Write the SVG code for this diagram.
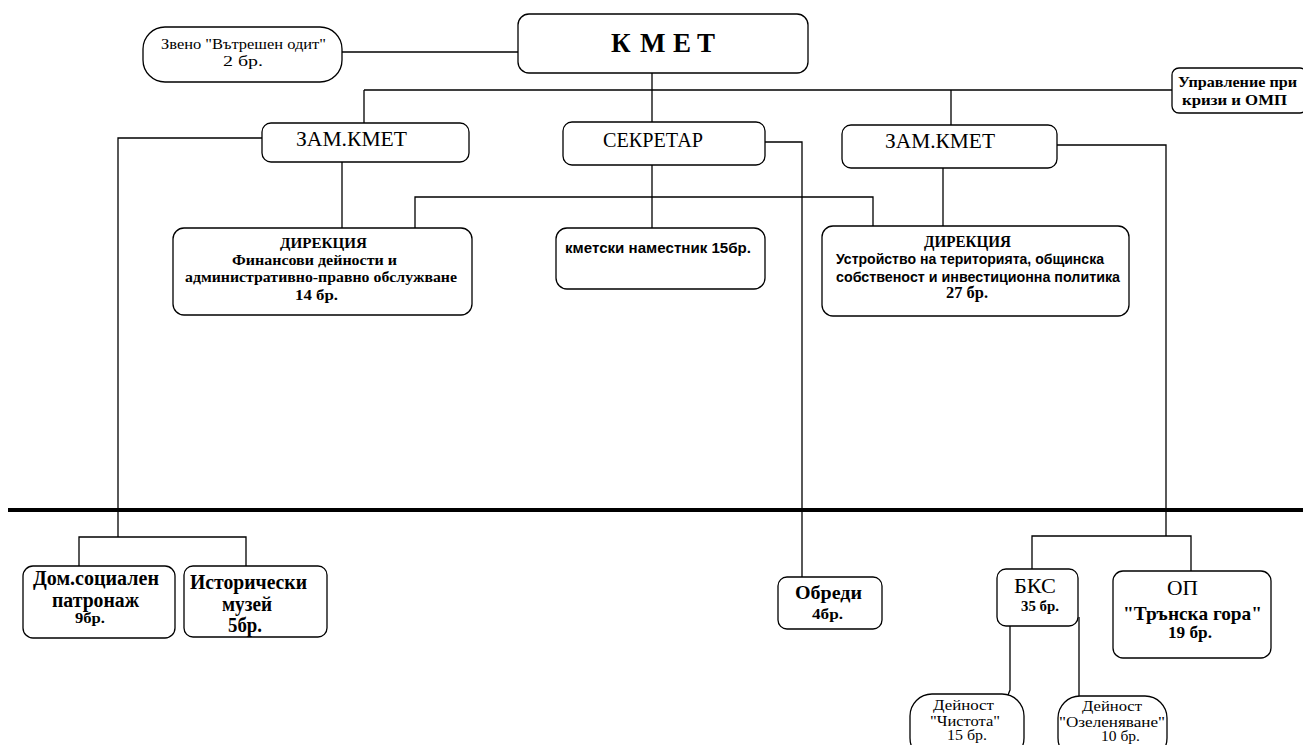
<svg xmlns="http://www.w3.org/2000/svg" width="1303" height="745" viewBox="0 0 1303 745">
<style>
.b{fill:#fff;stroke:#000;stroke-width:1.3}
.c{fill:none;stroke:#000;stroke-width:1.3}
text{fill:#000}
.s{font-family:"Liberation Serif",serif}
.sb{font-family:"Liberation Serif",serif;font-weight:bold}
.ab{font-family:"Liberation Sans",sans-serif;font-weight:bold}
</style>
<rect width="1303" height="745" fill="#fff"/>
<g id="connectors">
<path class="c" d="M342 52H518"/>
<path class="c" d="M652 73V122"/>
<path class="c" d="M364 90H1172M364 90V123M951 90V125"/>
<path class="c" d="M262 138H118V537M79 567V537H246V566"/>
<path class="c" d="M342 162V228"/>
<path class="c" d="M765 142H802V577"/>
<path class="c" d="M652 165V228"/>
<path class="c" d="M415 228V197H873V226"/>
<path class="c" d="M943 168V226"/>
<path class="c" d="M1057 145H1166V536M1032 569V536H1191V571"/>
<path class="c" d="M1010 626V690L1008 695M1079 617V696"/>
<path d="M8 510H1303" stroke="#000" stroke-width="4"/>
</g>
<g id="audit"><rect class="b" x="143" y="27" width="199" height="55" rx="22"/>
<text class="s" font-size="14" x="161" y="49" textLength="165" lengthAdjust="spacingAndGlyphs">Звено "Вътрешен одит"</text>
<text class="s" font-size="14" x="223" y="66" textLength="40" lengthAdjust="spacingAndGlyphs">2 бр.</text></g>
<g id="kmet"><rect class="b" x="518" y="14" width="290" height="59" rx="11"/>
<text class="sb" font-size="27" y="52"><tspan x="611">К</tspan><tspan x="640">М</tspan><tspan x="673">Е</tspan><tspan x="697">Т</tspan></text></g>
<g id="krizi"><rect class="b" x="1172" y="68" width="135" height="45" rx="7"/>
<text class="sb" font-size="14" x="1178" y="87" textLength="119" lengthAdjust="spacingAndGlyphs">Управление при</text>
<text class="sb" font-size="14" x="1182" y="105" textLength="105" lengthAdjust="spacingAndGlyphs">кризи и ОМП</text></g>
<g id="zam1"><rect class="b" x="262" y="123" width="207" height="39" rx="9"/>
<text class="s" font-size="20" x="296" y="146" textLength="111" lengthAdjust="spacingAndGlyphs">ЗАМ.КМЕТ</text></g>
<g id="sekretar"><rect class="b" x="563" y="122" width="202" height="43" rx="9"/>
<text class="s" font-size="20" x="603" y="147" textLength="100" lengthAdjust="spacingAndGlyphs">СЕКРЕТАР</text></g>
<g id="zam2"><rect class="b" x="842" y="125" width="215" height="43" rx="9"/>
<text class="s" font-size="20" x="885" y="148" textLength="110" lengthAdjust="spacingAndGlyphs">ЗАМ.КМЕТ</text></g>
<g id="dir1"><rect class="b" x="173" y="228" width="299" height="87" rx="11"/>
<text class="sb" font-size="15" x="280" y="248" textLength="87" lengthAdjust="spacingAndGlyphs">ДИРЕКЦИЯ</text>
<text class="sb" font-size="15" x="232" y="265" textLength="165" lengthAdjust="spacingAndGlyphs">Финансови дейности и</text>
<text class="sb" font-size="15" x="185" y="282" textLength="272" lengthAdjust="spacingAndGlyphs">административно-правно обслужване</text>
<text class="sb" font-size="15" x="295" y="300" textLength="43" lengthAdjust="spacingAndGlyphs">14 бр.</text></g>
<g id="namestnik"><rect class="b" x="556" y="228" width="209" height="61" rx="11"/>
<text class="ab" font-size="15" x="565" y="253" textLength="186" lengthAdjust="spacingAndGlyphs">кметски наместник 15бр.</text></g>
<g id="dir2"><rect class="b" x="822" y="226" width="307" height="90" rx="11"/>
<text class="sb" font-size="17" x="924" y="247" textLength="87" lengthAdjust="spacingAndGlyphs">ДИРЕКЦИЯ</text>
<text class="ab" font-size="14" x="836" y="264" textLength="268" lengthAdjust="spacingAndGlyphs">Устройство на територията, общинска</text>
<text class="ab" font-size="14" x="836" y="282" textLength="284" lengthAdjust="spacingAndGlyphs">собственост и инвестиционна политика</text>
<text class="sb" font-size="17" x="946" y="298" textLength="42" lengthAdjust="spacingAndGlyphs">27 бр.</text></g>
<g id="patronaj"><rect class="b" x="23" y="566" width="152" height="72" rx="10"/>
<text class="sb" font-size="20" x="33" y="585" textLength="126" lengthAdjust="spacingAndGlyphs">Дом.социален</text>
<text class="sb" font-size="20" x="52" y="607" textLength="87" lengthAdjust="spacingAndGlyphs">патронаж</text>
<text class="sb" font-size="15" x="75" y="623" textLength="30" lengthAdjust="spacingAndGlyphs">9бр.</text></g>
<g id="muzei"><rect class="b" x="184" y="566" width="143" height="71" rx="9"/>
<text class="sb" font-size="20" x="190" y="589" textLength="117" lengthAdjust="spacingAndGlyphs">Исторически</text>
<text class="sb" font-size="20" x="222" y="611" textLength="50" lengthAdjust="spacingAndGlyphs">музей</text>
<text class="sb" font-size="20" x="228" y="632" textLength="34" lengthAdjust="spacingAndGlyphs">5бр.</text></g>
<g id="obredi"><rect class="b" x="778" y="577" width="104" height="52" rx="9"/>
<text class="sb" font-size="19" x="795" y="599" textLength="67" lengthAdjust="spacingAndGlyphs">Обреди</text>
<text class="sb" font-size="15" x="812" y="619" textLength="31" lengthAdjust="spacingAndGlyphs">4бр.</text></g>
<g id="bks"><rect class="b" x="997" y="569" width="81" height="57" rx="9"/>
<text class="s" font-size="20" x="1014" y="593" textLength="42" lengthAdjust="spacingAndGlyphs">БКС</text>
<text class="sb" font-size="15" x="1021" y="611" textLength="38" lengthAdjust="spacingAndGlyphs">35 бр.</text></g>
<g id="op"><rect class="b" x="1113" y="571" width="158" height="87" rx="10"/>
<text class="s" font-size="20" x="1167" y="595" textLength="31" lengthAdjust="spacingAndGlyphs">ОП</text>
<text class="sb" font-size="19" x="1123" y="620" textLength="139" lengthAdjust="spacingAndGlyphs">"Трънска гора"</text>
<text class="sb" font-size="17" x="1168" y="638" textLength="44" lengthAdjust="spacingAndGlyphs">19 бр.</text></g>
<g id="chistota"><rect class="b" x="910" y="694" width="114" height="66" rx="22"/>
<text class="s" font-size="14" x="933" y="710" textLength="61" lengthAdjust="spacingAndGlyphs">Дейност</text>
<text class="s" font-size="14" x="930" y="726" textLength="70" lengthAdjust="spacingAndGlyphs">"Чистота"</text>
<text class="s" font-size="14" x="947" y="740" textLength="40" lengthAdjust="spacingAndGlyphs">15 бр.</text></g>
<g id="ozelenyavane"><rect class="b" x="1058" y="696" width="109" height="64" rx="22"/>
<text class="s" font-size="14" x="1082" y="711" textLength="60" lengthAdjust="spacingAndGlyphs">Дейност</text>
<text class="s" font-size="14" x="1059" y="727" textLength="106" lengthAdjust="spacingAndGlyphs">"Озеленяване"</text>
<text class="s" font-size="14" x="1101" y="741" textLength="39" lengthAdjust="spacingAndGlyphs">10 бр.</text></g>
</svg>
